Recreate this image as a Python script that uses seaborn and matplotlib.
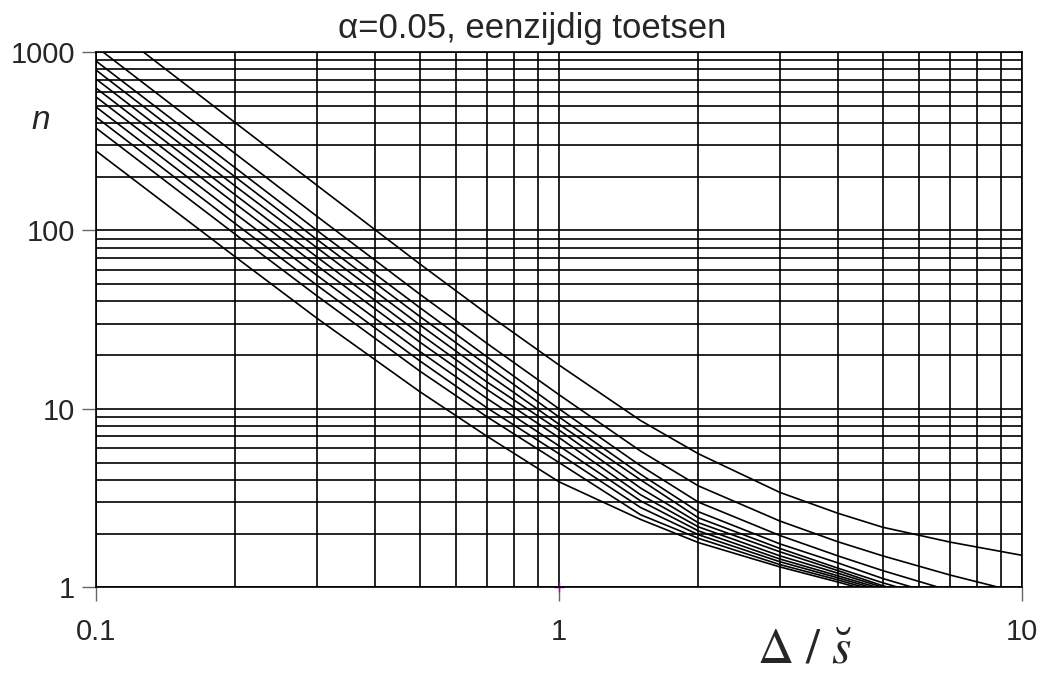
import numpy as np
import pandas as pd
import matplotlib
matplotlib.use("Agg")
import matplotlib.pyplot as plt
from matplotlib.ticker import LogLocator, NullFormatter, FixedLocator, FixedFormatter
import seaborn as sns

# values (delta/s on x, n on y), one list per curve
delta = [0.1, 0.2, 0.3, 0.5, 0.7, 1.0, 1.5, 2.0, 3.0, 4.0, 5.0, 7.0, 10.0]
nan = np.nan
n_a = [1600, 401, 179, 65, 34, 17.6, 8.6, 5.6, 3.4, 2.6, 2.17, 1.79, 1.51]
n_b = [1072, 269, 120, 44, 23.2, 12.0, 5.8, 3.7, 2.35, 1.8, 1.5, 1.17, nan]
n_c = [890, 224, 100, 37, 19.5, 10.0, 4.8, 3.0, 1.95, 1.5, 1.24, nan, nan]
n_d = [792, 199, 89, 33, 17.5, 9.0, 4.3, 2.65, 1.75, 1.37, 1.12, nan, nan]
n_e = [706, 177, 80, 29.6, 15.7, 8.2, 4.0, 2.45, 1.65, 1.28, 1.06, nan, nan]
n_f = [628, 158, 71, 26.4, 14.1, 7.6, 3.6, 2.3, 1.58, 1.24, 1.02, nan, nan]
n_g = [560, 141, 63.5, 23.7, 12.8, 6.9, 3.3, 2.18, 1.5, 1.2, nan, nan, nan]
n_h = [492, 124, 56, 21, 11.4, 6.2, 3.05, 2.07, 1.44, 1.16, nan, nan, nan]
n_i = [432, 109, 49.3, 18.6, 10.1, 5.6, 2.8, 1.97, 1.39, 1.13, nan, nan, nan]
n_j = [375, 95, 43, 16.3, 9.0, 5.0, 2.55, 1.88, 1.34, 1.1, nan, nan, nan]
n_k = [279, 71, 32.2, 12.5, 7.0, 3.9, 2.4, 1.78, 1.3, 1.07, nan, nan, nan]
curves = [n_a, n_b, n_c, n_d, n_e, n_f, n_g, n_h, n_i, n_j, n_k]
# where each curve comes down to n = 1 (None: stays above 1)
delta_end = [None, 8.9, 6.6, 5.8, 5.4, 5.15, 5.0, 4.85, 4.7, 4.55, 4.4]

rows = []
for i, (vals, end) in enumerate(zip(curves, delta_end)):
    for x, y in zip(delta, vals):
        if not np.isnan(y):
            rows.append((i, x, y))
    if end is not None:
        rows.append((i, end, 1.0))
df = pd.DataFrame(rows, columns=["curve", "delta", "n"])

sns.set_style("white")
plt.rcParams["font.family"] = ["Liberation Sans", "DejaVu Sans"]
plt.rcParams["mathtext.fontset"] = "stix"

fig = plt.figure(figsize=(10.42, 6.75), dpi=100)
ax = fig.add_axes([0.0921, 0.130, 0.8887, 0.793])

sns.lineplot(data=df, x="delta", y="n", hue="curve", palette=["black"] * len(curves),
             estimator=None, sort=True, legend=False, linewidth=1.2, ax=ax)

ax.set_xscale("log")
ax.set_yscale("log")
ax.set_xlim(0.1, 10)
ax.set_ylim(1, 1000)

# full grid on every 1..9 step of each decade
ax.xaxis.set_major_locator(FixedLocator([0.1, 1, 10]))
ax.xaxis.set_major_formatter(FixedFormatter(["0.1", "1", "10"]))
ax.yaxis.set_major_locator(FixedLocator([1, 10, 100, 1000]))
ax.yaxis.set_major_formatter(FixedFormatter(["1", "10", "100", "1000"]))
ax.xaxis.set_minor_locator(LogLocator(base=10, subs=np.arange(2, 10)))
ax.yaxis.set_minor_locator(LogLocator(base=10, subs=np.arange(2, 10)))
ax.xaxis.set_minor_formatter(NullFormatter())
ax.yaxis.set_minor_formatter(NullFormatter())
ax.grid(True, which="both", color="black", linewidth=1.2)
ax.tick_params(axis="both", which="major", direction="out", length=10, width=1,
               color="#666666", labelsize=21, bottom=True, left=True)
ax.tick_params(axis="x", which="major", pad=12)
ax.tick_params(axis="y", which="major", pad=5)
ax.tick_params(axis="both", which="minor", length=0)
for s in ax.spines.values():
    s.set_color("black")
    s.set_linewidth(1.2)

ax.set_xlabel("")
ax.set_ylabel("")
ax.plot([1], [1], marker="+", color="#b000b0", markersize=7, clip_on=False)

fig.text(0.511, 0.958, "α=0.05, eenzijdig toetsen", fontsize=25,
         ha="center", va="center")
fig.text(0.039, 0.822, "n", fontsize=24, style="italic", ha="center", va="center")
fig.text(0.772, 0.037, r"$\Delta\ /\ \breve{s}$", fontsize=36, ha="center", va="center")

fig.savefig("out.png", dpi=100)
